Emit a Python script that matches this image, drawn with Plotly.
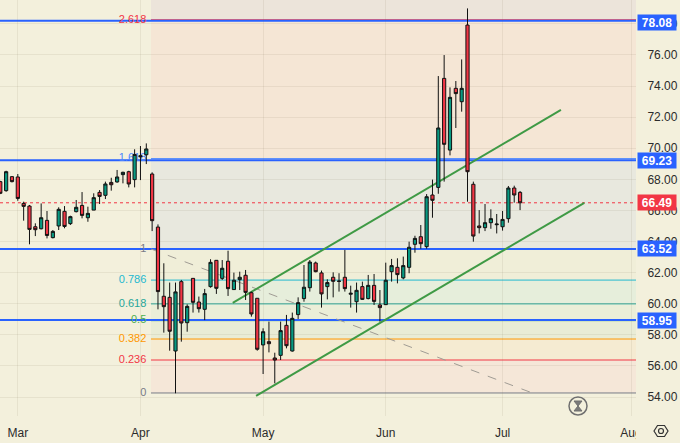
import plotly.graph_objects as go

# ---- data -------------------------------------------------------------
bar_index = list(range(90))
bar_open = [67.85,67.27,68.17,68.15,66.45,66.28,64.95,64.82,65.36,64.25,65.0,65.94,65.15,65.92,66.32,65.53,66.02,67.16,66.97,67.80,67.83,68.30,68.49,67.98,69.52,69.58,68.34,64.93,
            60.48,60.41,56.96,61.42,58.78,61.63,60.11,59.64,61.10,62.79,61.63,62.73,60.91,61.55,61.83,60.71,60.35,57.35,57.56,56.51,56.68,58.61,56.96,59.30,60.33,61.03,62.62,61.98,61.10,61.70,61.46,61.70,60.61,60.13,61.10,60.33,61.18,59.92,
            59.94,62.06,62.34,61.66,62.34,63.82,64.31,63.67,66.99,67.48,74.49,69.88,73.85,72.99,77.92,67.68,65.0,64.89,65.21,65.08,64.95,65.47,67.44,67.16]
bar_high = [67.9,68.55,68.2,68.34,66.56,66.35,65.17,66.45,65.96,64.74,66.20,66.28,65.66,66.67,67.18,66.24,67.10,67.31,67.85,68.10,68.60,68.49,68.55,69.93,70.14,70.31,68.45,65.10,
            62.60,61.36,61.36,61.53,59.96,61.63,60.46,60.95,62.86,62.81,62.81,63.41,62.00,62.06,62.17,60.78,60.35,58.42,58.85,56.85,58.85,59.28,59.43,60.41,62.49,62.81,62.71,62.13,61.57,62.02,61.96,63.46,61.16,61.36,61.42,61.85,61.91,60.88,
            62.64,62.88,62.92,63.03,63.99,64.37,65.06,67.05,67.98,74.64,75.99,73.91,74.32,75.71,78.99,67.85,66.02,66.41,66.07,65.77,65.96,67.57,67.59,67.25]
bar_low = [67.05,67.2,67.8,66.62,65.34,63.82,64.35,64.78,64.20,64.20,64.74,64.85,65.06,65.87,65.49,65.27,66.02,66.41,66.73,67.27,67.78,67.74,67.48,67.48,67.95,68.98,64.67,59.64,
           58.14,56.98,54.24,57.56,58.20,59.43,59.43,58.95,61.03,60.63,61.53,60.50,60.88,60.88,60.24,59.17,56.98,55.48,56.87,54.88,56.38,57.13,56.92,59.02,60.13,60.78,62.02,59.75,60.28,60.41,60.78,60.78,59.75,59.43,60.24,60.28,59.92,58.85,
           59.92,61.42,61.31,61.57,61.96,63.28,63.54,63.54,65.53,67.07,67.85,69.54,71.30,72.35,66.56,63.99,64.52,64.67,64.82,64.52,64.70,65.21,66.50,66.02]
bar_close = [67.10,68.49,67.85,66.77,66.26,64.78,64.76,65.53,64.39,64.65,66.07,64.97,65.60,66.20,65.68,65.81,66.82,66.90,67.70,67.65,68.15,68.45,67.70,69.60,69.45,69.95,65.34,60.78,
             59.81,58.23,60.76,58.76,59.83,60.09,59.68,60.65,62.66,60.99,62.28,60.97,61.51,61.70,60.73,59.34,57.07,58.20,57.43,56.38,58.27,57.30,59.06,60.07,61.06,62.68,62.06,60.63,61.36,61.44,61.44,60.97,60.67,60.86,60.28,61.18,60.15,59.75,
             61.51,62.45,61.87,62.45,63.63,64.20,63.86,66.88,66.65,71.30,70.25,73.27,73.51,73.85,68.49,64.35,64.89,65.21,65.47,65.12,65.42,67.44,66.99,66.49]

month_ticks = [3, 24, 45, 66, 86, 108]
month_labels = ["Mar", "Apr", "May", "Jun", "Jul", "Aug"]
price_ticks = [54, 56, 58, 60, 62, 64, 66, 68, 70, 72, 74, 76, 78]

level_lines = [78.20, 69.23, 63.52, 58.95]
level_labels = [78.08, 69.23, 63.52, 58.95]
last_price = 66.49

fib_names = ["0", "0.236", "0.382", "0.5", "0.618", "0.786", "1", "1.618", "2.618"]
fib_prices = [54.26, 56.38, 57.73, 58.91, 59.99, 61.52, 63.52, 69.33, 78.26]
fib_colors = ["#787B86", "#F23645", "#FF9800", "#4CAF50", "#26A69A", "#22B8CF", "#787B86", "#4C86FF", "#F23645"]
fib_fills = ["rgba(253,195,200,.2)", "rgba(255,215,168,.2)", "rgba(193,220,190,.2)", "rgba(203,228,200,.2)",
             "rgba(178,232,216,.2)", "rgba(228,228,200,.2)", "rgba(188,200,230,.2)", "rgba(253,190,185,.2)",
             "rgba(208,180,210,.2)"]

channel_upper_x, channel_upper_y = [39.8, 96.0], [60.06, 72.46]
channel_lower_x, channel_lower_y = [43.8, 100.0], [54.08, 66.49]
dash_x, dash_y = [25.8, 91.1], [63.52, 54.26]
fib_start = 25.8

# ---- layout constants ---------------------------------------------------
BG = "#F3F0DC"
W, H = 680, 443
PW, PH = 636, 416
XR = [-0.05, 108.85]
YR = [52.78, 79.53]
GRID = "rgba(120,105,80,0.10)"

def px(x):
    return x / PW

def py(y):
    return 1 - y / PH

fig = go.Figure()

# Fibonacci zones, level lines and background
shapes = []
tops = fib_prices[1:] + [YR[1]]
for lo, hi, col in zip(fib_prices, tops, fib_fills):
    shapes.append(dict(type="rect", xref="x", yref="y", x0=fib_start, x1=XR[1], y0=lo, y1=hi,
                       fillcolor=col, line_width=0, layer="below"))
for p, col in zip(fib_prices, fib_colors):
    shapes.append(dict(type="line", xref="x", yref="y", x0=fib_start, x1=XR[1], y0=p, y1=p,
                       line=dict(color=col, width=1), layer="below"))
for p in level_lines:
    shapes.append(dict(type="line", xref="x", yref="y", x0=XR[0], x1=XR[1], y0=p, y1=p,
                       line=dict(color="#2962FF", width=2), layer="below"))
shapes.append(dict(type="line", xref="x", yref="y", x0=XR[0], x1=XR[1], y0=last_price, y1=last_price,
                   line=dict(color="#F23645", width=1, dash="dot"), layer="below"))

fig.add_trace(go.Scatter(x=dash_x, y=dash_y, mode="lines", line=dict(color="#A09C94", width=1, dash="dash"),
                         showlegend=False, hoverinfo="skip"))
for xs, ys in ((channel_upper_x, channel_upper_y), (channel_lower_x, channel_lower_y)):
    fig.add_trace(go.Scatter(x=xs, y=ys, mode="lines", line=dict(color="#3F9A45", width=2),
                             showlegend=False, hoverinfo="skip"))
fig.add_trace(go.Scatter(x=[25.0] * len(fib_names), y=fib_prices, mode="text", text=fib_names,
                         textposition="middle left",
                         textfont=dict(family="Liberation Sans", size=11, color=fib_colors),
                         showlegend=False, hoverinfo="skip"))

fig.add_trace(go.Candlestick(
    x=bar_index, open=bar_open, high=bar_high, low=bar_low, close=bar_close,
    xaxis="x2", yaxis="y2", whiskerwidth=0,
    increasing=dict(fillcolor="#089981", line=dict(color="#111111", width=1)),
    decreasing=dict(fillcolor="#F23645", line=dict(color="#111111", width=1)),
    showlegend=False))

# Price labels
annotations = []
for v in level_labels:
    annotations.append(dict(xref="paper", yref="y", x=1, y=v, xanchor="left", yanchor="middle", xshift=1,
                            text=f"<b>{v:.2f}</b>", showarrow=False, width=38, height=15, borderpad=0,
                            bgcolor="#2962FF", font=dict(family="Liberation Sans", size=12, color="white")))
annotations.append(dict(xref="paper", yref="y", x=1, y=last_price, xanchor="left", yanchor="middle", xshift=1,
                        text=f"<b>{last_price:.2f}</b>", showarrow=False, width=38, height=15, borderpad=0,
                        bgcolor="#F23645", font=dict(family="Liberation Sans", size=12, color="white")))

# Clip the Aug label at the price-scale edge
shapes.append(dict(type="rect", xref="paper", yref="paper", x0=px(636), x1=px(680), y0=py(443), y1=py(417),
                   fillcolor=BG, line_width=0, layer="above"))

# Hourglass badge
cx, cy = 578, 406
shapes.append(dict(type="circle", xref="paper", yref="paper", x0=px(cx - 9), x1=px(cx + 9), y0=py(cy + 9), y1=py(cy - 9),
                   fillcolor="#F3F0DC", line=dict(color="#6F6F6F", width=1.5), layer="above"))
glass = (f"M {px(cx-4)} {py(cy-5)} L {px(cx+4)} {py(cy-5)} L {px(cx)} {py(cy)} L {px(cx+4)} {py(cy+5)} "
         f"L {px(cx-4)} {py(cy+5)} L {px(cx)} {py(cy)} Z")
shapes.append(dict(type="path", xref="paper", yref="paper", path=glass, fillcolor="#7A7A7A",
                   line=dict(color="#6F6F6F", width=1), layer="above"))

# Settings badge
gx, gy = 661, 431
hexa = (f"M {px(gx-7)} {py(gy)} L {px(gx-3.5)} {py(gy-5.5)} L {px(gx+3.5)} {py(gy-5.5)} L {px(gx+7)} {py(gy)} "
        f"L {px(gx+3.5)} {py(gy+5.5)} L {px(gx-3.5)} {py(gy+5.5)} Z")
shapes.append(dict(type="path", xref="paper", yref="paper", path=hexa, fillcolor="rgba(0,0,0,0)",
                   line=dict(color="#333333", width=1.2), layer="above"))
shapes.append(dict(type="circle", xref="paper", yref="paper", x0=px(gx - 2.5), x1=px(gx + 2.5), y0=py(gy + 2.5), y1=py(gy - 2.5),
                   fillcolor="rgba(0,0,0,0)", line=dict(color="#333333", width=1.2), layer="above"))

fig.update_layout(
    width=W, height=H, autosize=False,
    margin=dict(l=0, r=W - PW, t=0, b=H - PH),
    paper_bgcolor=BG, plot_bgcolor=BG,
    showlegend=False, boxgap=0.22, hovermode=False,
    shapes=shapes, annotations=annotations,
    font=dict(family="Liberation Sans", size=12, color="#2B2B2B"),
    xaxis=dict(range=XR, tickmode="array", tickvals=month_ticks, ticktext=month_labels,
               showgrid=True, gridcolor=GRID, gridwidth=1, zeroline=False, showline=False,
               ticks="outside", ticklen=6, tickcolor="rgba(0,0,0,0)", fixedrange=True,
               tickfont=dict(family="Liberation Sans", size=12, color="#2B2B2B"), rangeslider=dict(visible=False)),
    yaxis=dict(range=YR, side="right", tickmode="array", tickvals=price_ticks,
               ticktext=[f"{t:.2f}" for t in price_ticks],
               showgrid=True, gridcolor=GRID, gridwidth=1, zeroline=False, showline=False,
               ticks="outside", ticklen=8, tickcolor="rgba(0,0,0,0)", fixedrange=True,
               tickfont=dict(family="Liberation Sans", size=12, color="#2B2B2B")),
    xaxis2=dict(range=XR, overlaying="x", visible=False, fixedrange=True, rangeslider=dict(visible=False)),
    yaxis2=dict(range=YR, overlaying="y", visible=False, fixedrange=True),
)

fig.write_html("out.html", config=dict(displayModeBar=False),
               post_script="document.body.style.margin='0';document.body.style.overflow='hidden';document.body.style.background='#F3F0DC';")
